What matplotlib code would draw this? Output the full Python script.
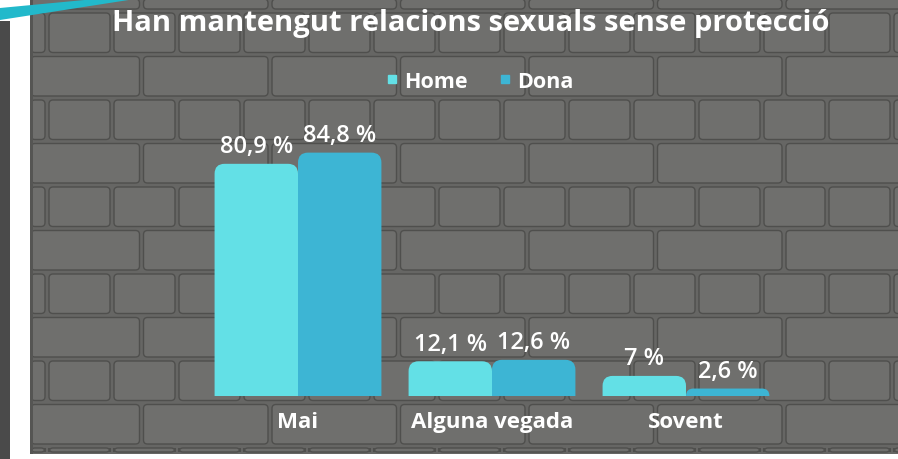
import numpy as np
import matplotlib
matplotlib.use("Agg")
import matplotlib.pyplot as plt
from matplotlib.patches import Rectangle, FancyBboxPatch, Polygon, PathPatch
from matplotlib.lines import Line2D
from matplotlib.path import Path

# ---- data ----
categories = ["Mai", "Alguna vegada", "Sovent"]
home = [80.9, 12.1, 7.0]
dona = [84.8, 12.6, 2.6]
home_labels = ["80,9 %", "12,1 %", "7 %"]
dona_labels = ["84,8 %", "12,6 %", "2,6 %"]
series_names = ["Home", "Dona"]
title = "Han mantengut relacions sexuals sense protecció"

HOME_C = "#63e0e6"
DONA_C = "#3db5d4"
FONT = "Open Sans"

W, H = 898, 460
fig = plt.figure(figsize=(W / 100, H / 100), dpi=100)
fig.patch.set_facecolor("white")

# ---- decorative background (pixel coords) ----
bg = fig.add_axes([0, 0, 1, 1], zorder=-5)
bg.set_xlim(0, W)
bg.set_ylim(H, 0)
bg.axis("off")
bg.add_patch(Rectangle((0, 22), 10, H, color="#4a4a4a", lw=0))
bg.add_patch(Rectangle((30, 0), W - 30, 455, color="#666664", lw=0))
# bricks
row_h = 43.5
y0 = 12
rows = 11
for r in range(-1, rows):
    top = y0 + r * row_h
    short = (r % 2 == 0)
    bw = 65 if short else 128.5
    off = 47 if short else 13
    x = off - bw
    while x < W:
        x0 = max(x + 2, 31)
        x1 = min(x + bw - 2, W + 5)
        yt = max(top + 2, 0)
        yb = min(top + row_h - 2, 453)
        if x1 > x0 and yb > yt:
            bg.add_patch(FancyBboxPatch((x0, yt), x1 - x0, yb - yt,
                                        boxstyle="round,pad=0,rounding_size=4",
                                        fc="#6f6f6d", ec="#4f4f4d", lw=1.0))
        x += bw
bg.add_patch(Rectangle((30, 0), 3, 455, color="#555553", lw=0))
bg.add_patch(Polygon([(0, 9), (95, 0), (135, 0), (0, 21)], closed=True,
                     color="#22b9cb", lw=0))

# ---- main axes ----
ax = fig.add_axes([104 / W, 63 / H, 776 / W, 287 / H])
ax.set_facecolor("none")
ax.set_xlim(-1, 3)
ax.set_ylim(0, 100)
for s in ax.spines.values():
    s.set_visible(False)
ax.set_yticks([])

x = np.arange(len(categories))
bw_ = 0.43
b1 = ax.bar(x - bw_ / 2, home, bw_, color=HOME_C, label=series_names[0])
b2 = ax.bar(x + bw_ / 2, dona, bw_, color=DONA_C, label=series_names[1])

pxx = 776 / 4.0
pxy = 287 / 100.0
R = 10.0


def round_top(rect, color):
    x0 = rect.get_x()
    w = rect.get_width()
    h = rect.get_height()
    x1 = x0 + w
    r_px = min(R, h * pxy)
    rx = r_px / pxx
    ry = r_px / pxy
    verts = [(x0, 0), (x0, h - ry), (x0, h), (x0 + rx, h), (x1 - rx, h),
             (x1, h), (x1, h - ry), (x1, 0), (x0, 0)]
    codes = [Path.MOVETO, Path.LINETO, Path.CURVE3, Path.CURVE3, Path.LINETO,
             Path.CURVE3, Path.CURVE3, Path.LINETO, Path.CLOSEPOLY]
    rect.set_visible(False)
    ax.add_patch(PathPatch(Path(verts, codes), fc=color, ec="none", zorder=2))


for rect in b1:
    round_top(rect, HOME_C)
for rect in b2:
    round_top(rect, DONA_C)

for bars, labs in ((b1, home_labels), (b2, dona_labels)):
    for rect, t in zip(bars, labs):
        ax.annotate(t, (rect.get_x() + rect.get_width() / 2, rect.get_height()),
                    xytext=(0, 4), textcoords="offset points", ha="center", va="bottom",
                    color="white", fontsize=17, fontfamily=FONT, fontweight="semibold")

ax.set_xticks(x)
ax.set_xticklabels(categories, color="white", fontsize=16, fontfamily=FONT,
                   fontweight="bold")
ax.tick_params(axis="x", length=0, pad=11)

fig.text(470.5 / W, 1 - 23 / H, title, ha="center", va="center", color="white",
         fontsize=21, fontfamily=FONT, fontweight="bold")

handles = [Line2D([], [], ls="none", marker="s", markersize=5.5, color=HOME_C),
           Line2D([], [], ls="none", marker="s", markersize=5.5, color=DONA_C)]
leg = ax.legend(handles=handles, labels=series_names, loc="center",
                bbox_to_anchor=(480 / W, 1 - 82 / H), bbox_transform=fig.transFigure,
                ncol=2, frameon=False, handlelength=0.5,
                handletextpad=0.3, columnspacing=1.5,
                prop={"family": FONT, "weight": "bold", "size": 15.5})
for t in leg.get_texts():
    t.set_color("white")

fig.savefig("out.png", dpi=100)
